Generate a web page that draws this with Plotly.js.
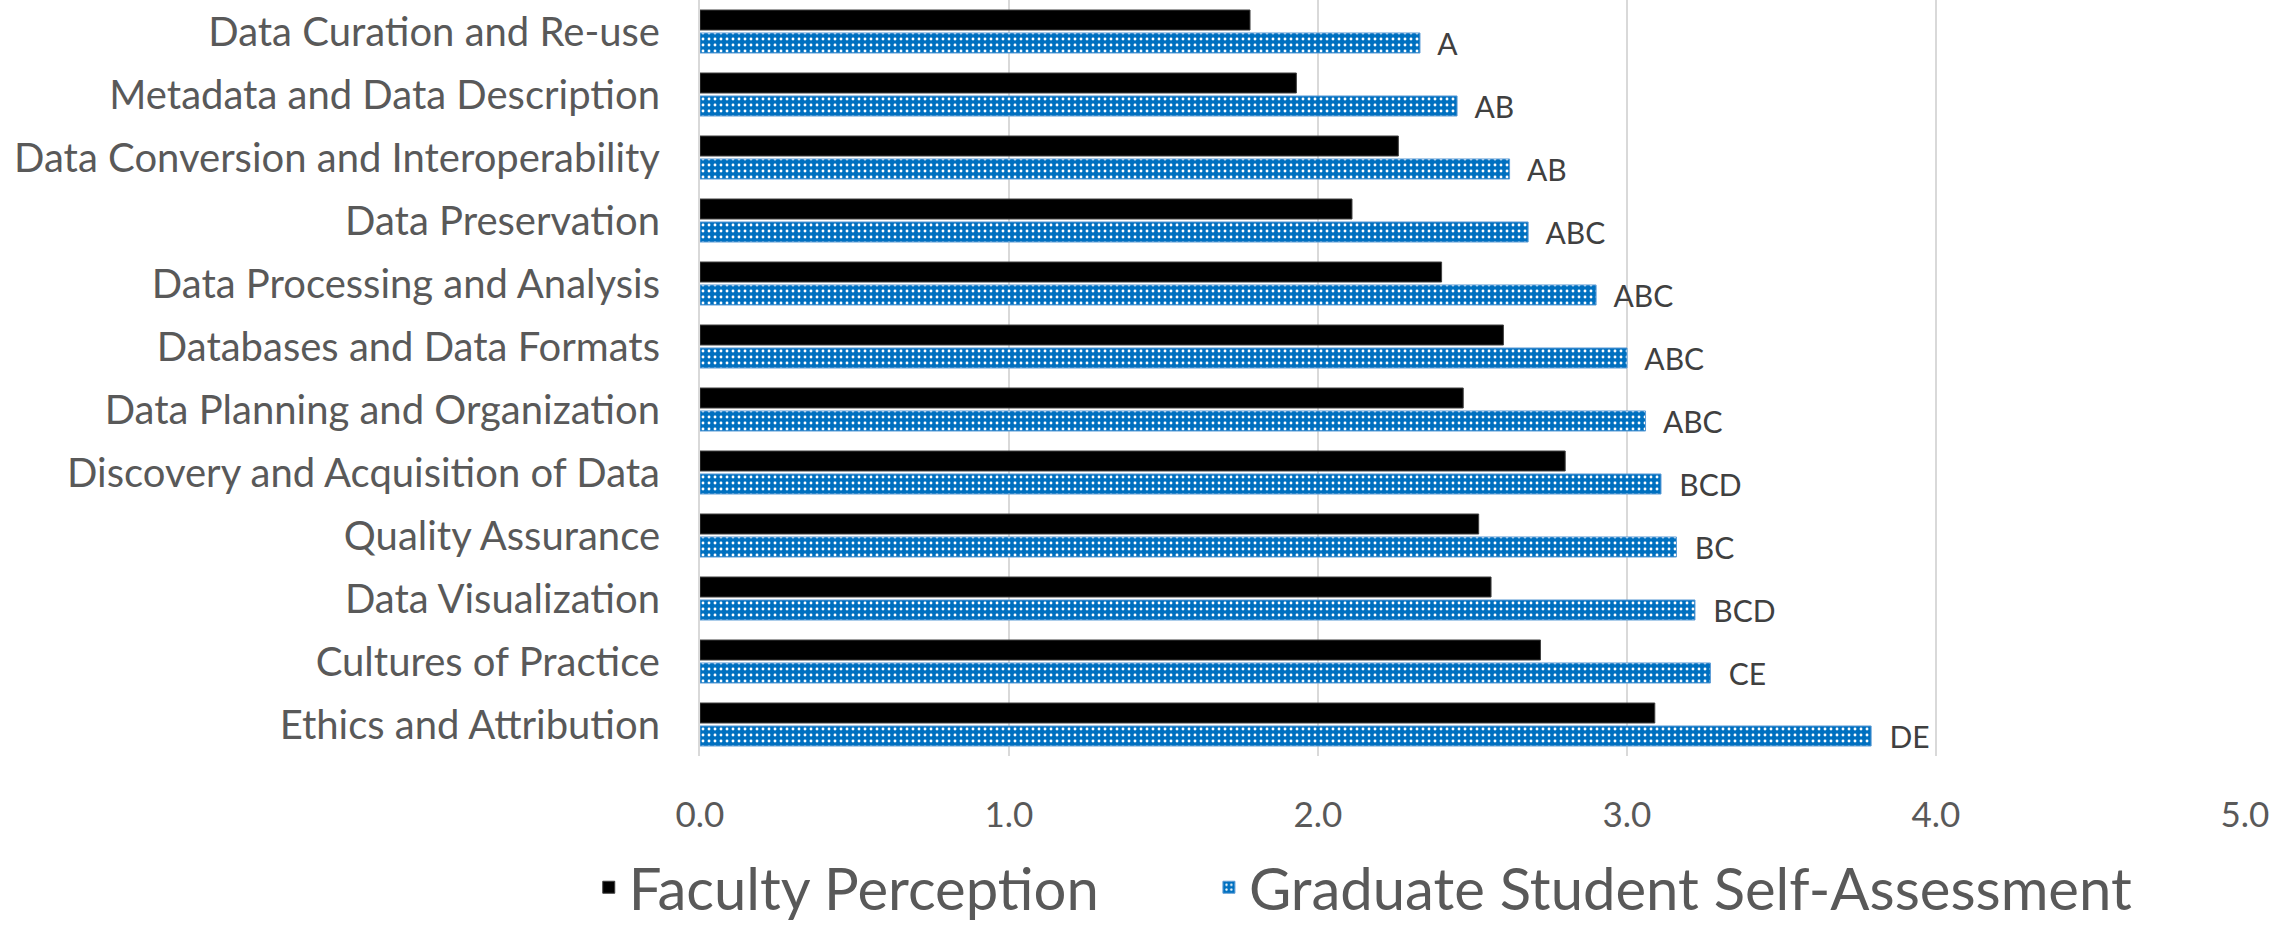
<!DOCTYPE html>
<html>
<head>
<meta charset="utf-8">
<script src="https://cdn.plot.ly/plotly-3.0.1.min.js"></script>
<style>html,body{margin:0;padding:0;background:#fff;}#chart{width:2295px;height:925px;}</style>
</head>
<body>
<div id="chart"></div>
<script>
const categories = [
  "Data Curation and Re-use",
  "Metadata and Data Description",
  "Data Conversion and Interoperability",
  "Data Preservation",
  "Data Processing and Analysis",
  "Databases and Data Formats",
  "Data Planning and Organization",
  "Discovery and Acquisition of Data",
  "Quality Assurance",
  "Data Visualization",
  "Cultures of Practice",
  "Ethics and Attribution"
];
const facultyPerception = [1.78, 1.93, 2.26, 2.11, 2.40, 2.60, 2.47, 2.80, 2.52, 2.56, 2.72, 3.09];
const studentSelfAssessment = [2.33, 2.45, 2.62, 2.68, 2.90, 3.00, 3.06, 3.11, 3.16, 3.22, 3.27, 3.79];
const significanceLabels = ["A", "AB", "AB", "ABC", "ABC", "ABC", "ABC", "BCD", "BC", "BCD", "CE", "DE"];
const xTickValues = [0, 1, 2, 3, 4, 5];
const xTickLabels = ["0.0", "1.0", "2.0", "3.0", "4.0", "5.0"];

const FONT = "Lato, 'Open Sans', sans-serif";
const GREY = "#595959";

const traces = [
  {
    type: "bar",
    orientation: "h",
    name: "Faculty Perception",
    legend: "legend",
    y: categories,
    x: facultyPerception,
    marker: { color: "#000000", line: { color: "#404040", width: 1 } },
    hoverinfo: "x+name"
  },
  {
    type: "bar",
    orientation: "h",
    name: "Graduate Student Self-Assessment",
    legend: "legend2",
    y: categories,
    x: studentSelfAssessment,
    text: significanceLabels,
    texttemplate: "  %{text}",
    textposition: "outside",
    constraintext: "none",
    cliponaxis: false,
    textfont: { family: FONT, size: 30, color: "#404040" },
    marker: {
      color: "#0070C0",
      line: { color: "#5B9BD5", width: 1 },
      pattern: { shape: ".", bgcolor: "#0070C0", fgcolor: "#ffffff", fillmode: "replace", size: 6, solidity: 0.18 }
    },
    hoverinfo: "x+name"
  }
];

const legendCommon = {
  orientation: "h",
  xanchor: "left",
  y: -0.174,
  yanchor: "middle",
  font: { family: FONT, size: 58, color: GREY },
  itemwidth: 30,
  bgcolor: "rgba(0,0,0,0)"
};

const layout = {
  width: 2295,
  height: 925,
  margin: { l: 700, r: 50, t: 0, b: 169, pad: 0, autoexpand: false },
  paper_bgcolor: "#ffffff",
  plot_bgcolor: "#ffffff",
  font: { family: FONT, color: GREY },
  barmode: "group",
  bargap: 0.27,
  bargroupgap: 0.13,
  showlegend: true,
  legend: Object.assign({}, legendCommon, { x: -0.072 }),
  legend2: Object.assign({}, legendCommon, { x: 0.3294 }),
  xaxis: {
    range: [0, 5],
    tickvals: xTickValues,
    ticktext: xTickLabels,
    showgrid: true,
    gridcolor: "#D9D9D9",
    gridwidth: 2,
    zeroline: false,
    showline: false,
    ticks: "outside",
    ticklen: 28,
    tickcolor: "rgba(0,0,0,0)",
    tickfont: { family: FONT, size: 35, color: GREY },
    fixedrange: true
  },
  yaxis: {
    type: "category",
    autorange: "reversed",
    showgrid: false,
    zeroline: false,
    showline: true,
    linecolor: "#D9D9D9",
    linewidth: 2,
    ticks: "outside",
    ticklen: 30,
    tickcolor: "rgba(0,0,0,0)",
    tickfont: { family: FONT, size: 40, color: GREY },
    fixedrange: true
  }
};

Plotly.newPlot("chart", traces, layout, { displayModeBar: false, staticPlot: true });
</script>
</body>
</html>
